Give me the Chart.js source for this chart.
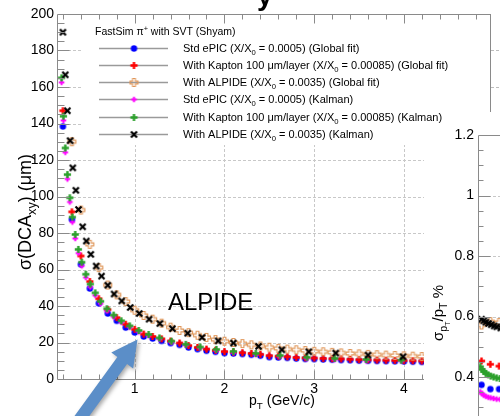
<!DOCTYPE html>
<html lang="en">
<head>
<meta charset="UTF-8">
<title>Resolucao DCAxy</title>
<script src="https://cdn.jsdelivr.net/npm/chart.js"></script>
<style>
  html, body { margin: 0; padding: 0; background: #fff; }
  #quadro { position: relative; width: 500px; height: 416px; overflow: hidden; }
  #graficoDca { position: absolute; left: 0; top: 0; }
  #graficoPt { position: absolute; left: 400px; top: 0; }
</style>
</head>
<body>
<div id="quadro">
  <canvas id="graficoDca" width="500" height="416"></canvas>
  <canvas id="graficoPt" width="300" height="480"></canvas>
</div>
<script>
// ---- dados ----
const ptGlobal = [0.2, 0.3, 0.4, 0.5, 0.6, 0.7, 0.8, 0.9, 1.0, 1.1, 1.2, 1.3, 1.4, 1.5, 1.6, 1.7, 1.8, 1.9, 2.0, 2.1,
  2.2, 2.3, 2.4, 2.5, 2.6, 2.7, 2.8, 2.9, 3.0, 3.1, 3.2, 3.3, 3.4, 3.5, 3.6, 3.7, 3.8, 3.9, 4.0, 4.1, 4.2];
const ptAlpideGlobal = [0.3, 0.4, 0.5, 0.6, 0.7, 0.8, 0.9, 1.0, 1.1, 1.2, 1.3, 1.4, 1.5, 1.6, 1.7, 1.8, 1.9, 2.0, 2.1,
  2.2, 2.3, 2.4, 2.5, 2.6, 2.7, 2.8, 2.9, 3.0, 3.1, 3.2, 3.3, 3.4, 3.5, 3.6, 3.7, 3.8, 3.9, 4.0, 4.1, 4.2];
const ptKalman = [0.185, 0.205, 0.226, 0.25, 0.277, 0.305, 0.337, 0.372, 0.41, 0.455, 0.505, 0.56, 0.62, 0.69, 0.765,
  0.85, 0.945, 1.045, 1.155, 1.275, 1.41, 1.57, 1.73, 1.91, 2.1, 2.35, 2.62, 2.92, 3.23, 3.58, 3.97];
const ptAlpideKalman = [0.2, 0.226, 0.25, 0.28, 0.31, 0.344, 0.374, 0.42, 0.46, 0.51, 0.57, 0.63, 0.70, 0.77, 0.855,
  0.95, 1.05, 1.16, 1.28, 1.42, 1.59, 1.75, 1.93, 2.10, 2.38, 2.64, 2.94, 3.24, 3.6, 3.99];

const dcaStdGlobal = [138.4, 87.4, 62.8, 49.6, 41.5, 35.9, 31.9, 28.2, 25.5, 23.3, 22.2, 20.9, 19.7, 18.7, 17.3, 16.4, 15.5, 14.9, 14.2, 14.0,
  13.7, 13.3, 12.8, 12.0, 11.8, 11.6, 11.2, 11.0, 10.9, 10.7, 10.6, 10.4, 10.3, 10.1, 10.0, 9.9, 9.8, 9.7, 9.6, 9.5, 9.4];
const dcaKaptonGlobal = [147, 91.6, 67.4, 53.4, 44, 38, 33.6, 30, 27.2, 24.6, 23.3, 22, 20.8, 19.7, 18.3, 17.3, 16.4, 15.7, 15.0, 14.7,
  14.4, 14.0, 13.5, 12.8, 12.5, 12.2, 11.8, 11.6, 11.5, 11.3, 11.1, 11.0, 10.8, 10.6, 10.5, 10.4, 10.3, 10.2, 10.1, 10.0, 9.9];
const dcaAlpideGlobal = [130, 92.6, 73.8, 61, 51.5, 46.1, 42.4, 37.7, 34.8, 32.8, 30.6, 28.4, 26.6, 25.4, 24.0, 22.8, 21.6, 20.7, 20.0,
  19.4, 18.7, 18.1, 17.4, 16.8, 16.4, 16.0, 15.6, 15.2, 14.9, 14.6, 14.3, 14.0, 13.8, 13.5, 13.3, 13.1, 12.9, 12.7, 12.5, 12.3];
const dcaStdKalman = [162.5, 141.7, 124.2, 109.6, 97, 86, 77, 69, 62, 55.6, 50.4, 45.8, 41.3, 37.3, 34, 31, 28.3, 25.8, 23.7, 21.9,
  20.1, 18.4, 16.9, 15.6, 14.5, 13.3, 12.2, 11.2, 10.6, 10.0, 9.8];
const dcaKaptonKalman = [165, 144, 126.6, 112, 99.3, 88.7, 79.2, 71, 64, 57.4, 52, 47.2, 42.6, 38.5, 35, 31.9, 29.1, 26.6, 24.4, 22.5,
  20.7, 19.0, 17.5, 16.2, 15.1, 14.0, 12.9, 11.9, 11.3, 10.7, 10.3];
const dcaAlpideKalman = [190, 166.7, 147, 130.6, 115.7, 103.4, 92.9, 83.4, 75.6, 68.3, 61.9, 56.4, 51.4, 46.6, 42.8, 39.2, 35.9, 32.8,
  30.4, 27.6, 25.1, 22.8, 20.9, 19.7, 17.9, 16.0, 14.9, 14.2, 13.1, 12.2];

// painel da direita (resolucao em pT), so o comeco aparece
const ptGlobalRes = [0.2, 0.3, 0.4];
const ptKalmanRes = [0.185, 0.205, 0.226, 0.25, 0.277, 0.305, 0.337, 0.372, 0.41];
const ptAlpideKalmanRes = [0.2, 0.226, 0.25, 0.28, 0.31, 0.344, 0.374, 0.42];
const resStdGlobal = [0.374, 0.360, 0.360];
const resKaptonGlobal = [0.453, 0.442, 0.436];
const resAlpideGlobal = [0.572, 0.583, 0.580];
const resStdKalman = [0.351, 0.345, 0.340, 0.336, 0.333, 0.331, 0.329, 0.327, 0.326];
const resKaptonKalman = [0.434, 0.425, 0.418, 0.412, 0.407, 0.403, 0.400, 0.397, 0.395];
const resAlpideKalman = [0.591, 0.586, 0.581, 0.577, 0.573, 0.569, 0.566, 0.562];

const ticksX = [1, 2, 3, 4];
const legendaTitulo = 'FastSim π^{+} with SVT (Shyam)';
const legendaTextos = [
  'Std ePIC (X/X_{0} = 0.0005) (Global fit)',
  'With Kapton 100 μm/layer (X/X_{0} = 0.00085) (Global fit)',
  'With ALPIDE (X/X_{0} = 0.0035) (Global fit)',
  'Std ePIC (X/X_{0} = 0.0005) (Kalman)',
  'With Kapton 100 μm/layer (X/X_{0} = 0.00085) (Kalman)',
  'With ALPIDE (X/X_{0} = 0.0035) (Kalman)'
];

const FONTE = "'Liberation Sans', Arial, Helvetica, sans-serif";

// marcadores estilo ROOT
function marcador(tipo, cor) {
  const c = document.createElement('canvas');
  c.width = 11; c.height = 11;
  const g = c.getContext('2d');
  g.translate(5.5, 5.5);
  g.fillStyle = cor; g.strokeStyle = cor;
  if (tipo === 'circulo') {
    g.beginPath(); g.arc(0, 0, 3.2, 0, Math.PI * 2); g.fill();
  } else if (tipo === 'xis') {
    g.lineWidth = 2.2;
    g.beginPath(); g.moveTo(-3, -3); g.lineTo(3, 3); g.moveTo(3, -3); g.lineTo(-3, 3); g.stroke();
  } else {
    const L = tipo === 'maisPequeno' ? 2.8 : tipo === 'maisAberto' ? 4 : 3.6;
    const e = tipo === 'maisPequeno' ? 1 : tipo === 'maisAberto' ? 1.4 : 1.2;
    g.beginPath();
    g.moveTo(-e, -L); g.lineTo(e, -L); g.lineTo(e, -e); g.lineTo(L, -e); g.lineTo(L, e); g.lineTo(e, e);
    g.lineTo(e, L); g.lineTo(-e, L); g.lineTo(-e, e); g.lineTo(-L, e); g.lineTo(-L, -e); g.lineTo(-e, -e);
    g.closePath();
    if (tipo === 'maisAberto') { g.lineWidth = 1.1; g.stroke(); } else { g.fill(); }
  }
  return c;
}

const marcadores = [
  marcador('circulo', '#0000ff'),
  marcador('mais', '#ff0000'),
  marcador('maisAberto', '#e0975a'),
  marcador('maisPequeno', '#ff00ff'),
  marcador('mais', '#2ca02c'),
  marcador('xis', '#000000')
];

function pontos(xs, ys) {
  return xs.map((v, i) => ({ x: v, y: ys[i] }));
}

function montaDatasets(listas) {
  return listas.map((l, i) => ({
    label: legendaTextos[i],
    data: pontos(l[0], l[1]),
    pointStyle: marcadores[i],
    pointRadius: 3,
    showLine: false,
    order: -i
  }));
}

// texto com sub/sobrescrito: _{..} e ^{..}
function partes(str) {
  const out = []; const re = /([_^])\{([^}]*)\}/g; let ult = 0, m;
  while ((m = re.exec(str))) {
    if (m.index > ult) out.push([str.slice(ult, m.index), 0]);
    out.push([m[2], m[1] === '_' ? -1 : 1]);
    ult = re.lastIndex;
  }
  if (ult < str.length) out.push([str.slice(ult), 0]);
  return out;
}

function escreve(ctx, segs, x, y, tam, alinhar) {
  const larg = segs.map(([t, n]) => {
    ctx.font = (tam * Math.pow(0.7, Math.abs(n))) + 'px ' + FONTE;
    return ctx.measureText(t).width;
  });
  const total = larg.reduce((a, b) => a + b, 0);
  let cx = alinhar === 'center' ? x - total / 2 : x;
  ctx.textBaseline = 'alphabetic'; ctx.textAlign = 'left';
  segs.forEach(([t, n], i) => {
    ctx.font = (tam * Math.pow(0.7, Math.abs(n))) + 'px ' + FONTE;
    const dy = n === -1 ? tam * 0.28 : n === -2 ? tam * 0.45 : n === 1 ? -tam * 0.4 : 0;
    ctx.fillText(t, cx, y + dy);
    cx += larg[i];
  });
}

function linha(ctx, x1, y1, x2, y2) {
  ctx.beginPath(); ctx.moveTo(x1, y1); ctx.lineTo(x2, y2); ctx.stroke();
}

const molduraDca = {
  id: 'molduraDca',
  beforeDatasetsDraw(chart) {
    const { ctx, chartArea: a, scales: { x, y } } = chart;
    ctx.save();
    ctx.strokeStyle = '#c8c8c8'; ctx.lineWidth = 1; ctx.setLineDash([3, 2]);
    ticksX.forEach(v => {
      const px = Math.round(x.getPixelForValue(v)) + 0.5;
      linha(ctx, px, a.top, px, a.bottom);
    });
    for (let v = 20; v < 200; v += 20) {
      const py = Math.round(y.getPixelForValue(v)) + 0.5;
      linha(ctx, a.left, py, a.right, py);
    }
    ctx.restore();
  },
  afterDatasetsDraw(chart) {
    const { ctx, chartArea: a, scales: { x, y } } = chart;
    ctx.save();
    // caixa da legenda (cobre a grade)
    ctx.fillStyle = '#fff';
    ctx.fillRect(83, 15, a.right - 83, 130);

    // eixos
    ctx.strokeStyle = '#8a8a8a'; ctx.lineWidth = 1;
    const esq = Math.round(a.left) - 0.5, base = Math.round(a.bottom) + 0.5, topo = Math.round(a.top) + 0.5;
    linha(ctx, esq, topo, esq, base);
    linha(ctx, esq, base, a.right, base);
    linha(ctx, esq, topo, 491, topo);
    for (let v = 5; v < 200; v += 5) {
      const py = Math.round(y.getPixelForValue(v)) + 0.5;
      linha(ctx, esq, py, esq + (v % 20 === 0 ? 12 : 7), py);
    }
    for (let k = 1; k <= 24; k++) {
      const v = k * 0.2;
      const px = Math.round(x.getPixelForValue(v)) + 0.5;
      if (px > 490) break;
      const comp = k % 5 === 0 ? 9 : 5;
      if (px < a.right) linha(ctx, px, base, px, base - comp);
      linha(ctx, px, topo, px, topo + comp);
    }
    // pedaco do painel de cima a direita
    linha(ctx, 490.5, topo, 490.5, 112);
    ctx.setLineDash([3, 2]); ctx.strokeStyle = '#bdbdbd';
    linha(ctx, 491, 50.5, 500, 50.5);
    linha(ctx, 491, 87.5, 500, 87.5);
    ctx.setLineDash([]);

    // legenda
    ctx.fillStyle = '#000';
    escreve(ctx, partes(legendaTitulo), 95, 35, 10.5);
    const linhasY = [48, 65, 82, 99, 117, 134];
    legendaTextos.forEach((t, i) => {
      ctx.strokeStyle = '#9a9a9a'; ctx.lineWidth = 1.5;
      linha(ctx, 99, linhasY[i] + 0.5, 168, linhasY[i] + 0.5);
      ctx.drawImage(marcadores[i], 134 - 5.5, linhasY[i] - 5);
      ctx.fillStyle = '#000';
      escreve(ctx, partes(t), 183, linhasY[i] + 4, 11);
    });

    // titulos dos eixos
    escreve(ctx, partes('p_{T} (GeV/c)'), 282, 405, 14, 'center');
    ctx.save();
    ctx.translate(31, 212); ctx.rotate(-Math.PI / 2);
    escreve(ctx, partes('σ(DCA_{xy}) (μm)'), 0, 0, 18, 'center');
    ctx.restore();

    // anotacoes
    ctx.fillStyle = '#000';
    ctx.font = '24px ' + FONTE;
    ctx.fillText('ALPIDE', 168, 310);
    ctx.font = 'bold 28px ' + FONTE;
    ctx.fillText('y', 257, 5);

    // seta azul
    const ponta = [137.5, 339.5], cauda = [79, 420];
    const dx = ponta[0] - cauda[0], dy = ponta[1] - cauda[1], L = Math.hypot(dx, dy);
    const u = [dx / L, dy / L], n = [-u[1], u[0]];
    const b = [ponta[0] - 26 * u[0], ponta[1] - 26 * u[1]];
    const P = (p, s, w) => [p[0] + s * w * n[0], p[1] + s * w * n[1]];
    const poly = [ponta, P(b, 1, 13.5), P(b, 1, 6), P(cauda, 1, 6), P(cauda, -1, 6), P(b, -1, 6), P(b, -1, 13.5)];
    ctx.shadowColor = 'rgba(0,0,0,0.35)'; ctx.shadowBlur = 4; ctx.shadowOffsetX = 2; ctx.shadowOffsetY = 2;
    ctx.fillStyle = '#5b8ec8';
    ctx.beginPath(); poly.forEach((p, i) => i ? ctx.lineTo(p[0], p[1]) : ctx.moveTo(p[0], p[1])); ctx.closePath(); ctx.fill();
    ctx.restore();
  }
};

const molduraPt = {
  id: 'molduraPt',
  beforeDatasetsDraw(chart) {
    const { ctx, chartArea: a, scales: { y } } = chart;
    ctx.save();
    ctx.strokeStyle = '#c8c8c8'; ctx.lineWidth = 1; ctx.setLineDash([3, 2]);
    [0.4, 0.6, 0.8, 1.0].forEach(v => {
      const py = Math.round(y.getPixelForValue(v)) + 0.5;
      linha(ctx, a.left, py, a.right, py);
    });
    ctx.restore();
  },
  afterDatasetsDraw(chart) {
    const { ctx, chartArea: a, scales: { y } } = chart;
    ctx.save();
    ctx.strokeStyle = '#8a8a8a'; ctx.lineWidth = 1;
    const esq = Math.round(a.left) + 0.5, topo = Math.round(a.top) + 0.5;
    linha(ctx, esq, topo, esq, a.bottom);
    linha(ctx, esq, topo, a.right, topo);
    for (let k = 5; k < 24; k++) {
      const v = k * 0.05;
      const py = Math.round(y.getPixelForValue(v)) + 0.5;
      linha(ctx, esq, py, esq + (k % 4 === 0 ? 12 : 5), py);
    }
    ctx.fillStyle = '#000';
    ctx.translate(43, 313); ctx.rotate(-Math.PI / 2);
    escreve(ctx, [['σ', 0], ['p', -1], ['T', -2], ['/p', 0], ['T', -1], [' %', 0]], 0, 0, 15, 'center');
    ctx.restore();
  }
};

const eixoFonte = { family: FONTE, size: 14 };

new Chart(document.getElementById('graficoDca'), {
  type: 'scatter',
  data: {
    datasets: montaDatasets([
      [ptGlobal, dcaStdGlobal],
      [ptGlobal, dcaKaptonGlobal],
      [ptAlpideGlobal, dcaAlpideGlobal],
      [ptKalman, dcaStdKalman],
      [ptKalman, dcaKaptonKalman],
      [ptAlpideKalman, dcaAlpideKalman]
    ])
  },
  options: {
    responsive: false, animation: false, devicePixelRatio: 1,
    layout: { padding: { top: 14, right: 76, left: 0, bottom: 0 } },
    plugins: { legend: { display: false }, tooltip: { enabled: false } },
    scales: {
      x: {
        type: 'linear', min: 0.145, max: 4.224,
        afterFit(s) { s.height = 37; },
        grid: { display: false, drawTicks: false }, border: { display: false },
        ticks: { stepSize: 1, includeBounds: false, padding: 2, font: eixoFonte, color: '#000', maxRotation: 0, autoSkip: false }
      },
      y: {
        min: 0, max: 200,
        afterFit(s) { s.width = 58; },
        grid: { display: false, drawTicks: false }, border: { display: false },
        ticks: { stepSize: 20, padding: 4, font: eixoFonte, color: '#000' }
      }
    }
  },
  plugins: [molduraDca]
});

new Chart(document.getElementById('graficoPt'), {
  type: 'scatter',
  data: {
    datasets: montaDatasets([
      [ptGlobalRes, resStdGlobal],
      [ptGlobalRes, resKaptonGlobal],
      [ptGlobalRes, resAlpideGlobal],
      [ptKalmanRes, resStdKalman],
      [ptKalmanRes, resKaptonKalman],
      [ptAlpideKalmanRes, resAlpideKalman]
    ])
  },
  options: {
    responsive: false, animation: false, devicePixelRatio: 1,
    layout: { padding: { top: 135, right: 0, left: 0, bottom: 0 } },
    plugins: { legend: { display: false }, tooltip: { enabled: false } },
    scales: {
      x: {
        type: 'linear', min: 0.16, max: 2.627,
        afterFit(s) { s.height = 42.5; },
        grid: { display: false, drawTicks: false }, border: { display: false },
        ticks: { display: false }
      },
      y: {
        min: 0.2, max: 1.2,
        afterFit(s) { s.width = 78; },
        grid: { display: false, drawTicks: false }, border: { display: false },
        ticks: { stepSize: 0.2, padding: 4, font: eixoFonte, color: '#000', callback: v => String(Number(v.toFixed(1))) }
      }
    }
  },
  plugins: [molduraPt]
});
</script>
</body>
</html>
